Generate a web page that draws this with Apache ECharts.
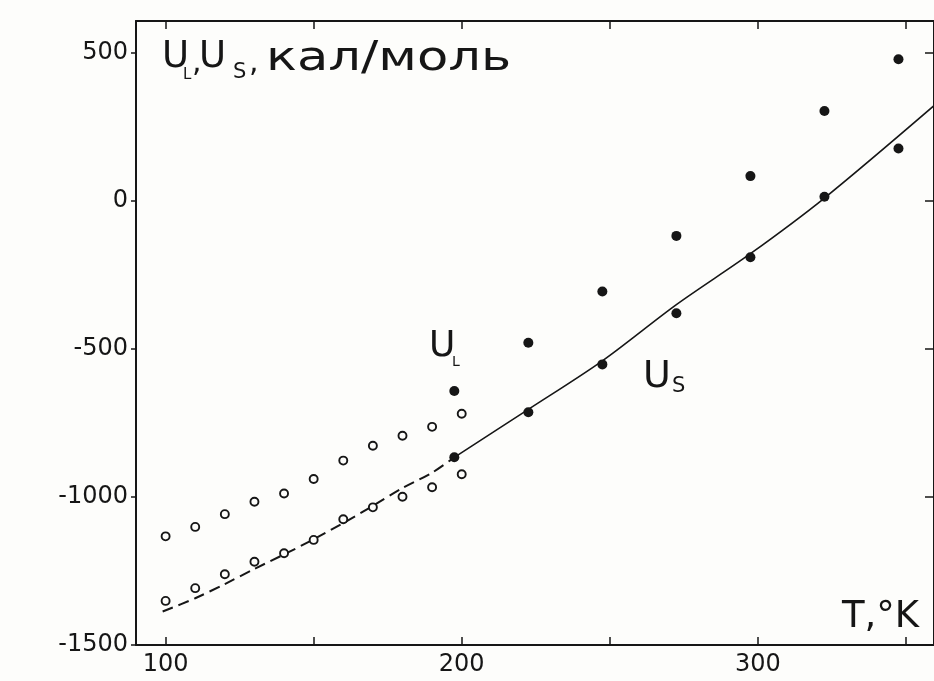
<!DOCTYPE html>
<html>
<head>
<meta charset="utf-8">
<script src="https://cdn.jsdelivr.net/npm/echarts@6/dist/echarts.min.js"></script>
<style>
html,body{margin:0;padding:0;background:#fdfdfb;}
#chart{width:934px;height:681px;}
</style>
</head>
<body>
<div id="chart"></div>
<script>
// ---- data ----
const tOpen = [100, 110, 120, 130, 140, 150, 160, 170, 180, 190, 200];
const uLOpen = [-1133, -1101, -1058, -1016, -988, -939, -877, -827, -793, -763, -719];
const uSOpen = [-1351, -1308, -1261, -1219, -1190, -1145, -1075, -1035, -999, -967, -923];

const tFilled = [197.5, 222.5, 247.5, 272.5, 297.5, 322.5, 347.5];
const uLFilled = [-642, -479, -306, -118, 84, 304, 479];
const uSFilled = [-866, -714, -552, -379, -190, 14, 177];

// fitted curve for U_S (dashed below 200 K, solid above)
const tDash = [99, 110, 120, 130, 140, 150, 160, 170, 180, 190, 197.5];
const uDash = [-1387, -1342, -1294, -1243, -1194, -1143, -1088, -1030, -970, -918, -866];
const tSolid = [197.5, 222.5, 247.5, 272.5, 297.5, 322.5, 359.5];
const uSolid = [-866, -704, -540, -350, -178, 10, 322];

// axes
const xTicks = [100, 150, 200, 250, 300, 350];
const xTickLabels = [100, 200, 300];
const yTicks = [-1500, -1000, -500, 0, 500];
const yTickLabels = [-1500, -1000, -500, 0, 500];

const zip = (a, b) => a.map((v, i) => [v, b[i]]);

const INK = '#161616';
const FONT = 'DejaVu Sans';
const BG = '#fdfdfb';

const chart = echarts.init(document.getElementById('chart'), null, {renderer: 'canvas'});

const axisCommon = {
  type: 'value',
  min: 90,
  max: 359.5,
  splitLine: {show: false},
  axisLine: {show: true, onZero: false, lineStyle: {color: INK, width: 2}}
};
const yCommon = {
  type: 'value',
  min: -1500,
  max: 608,
  splitLine: {show: false},
  axisLine: {show: true, onZero: false, lineStyle: {color: INK, width: 2}}
};

function txt(text, x, y, size, extra) {
  return Object.assign({
    type: 'text', x: x, y: y, silent: true,
    style: {text: text, fill: INK, font: size + 'px "' + FONT + '"', verticalAlign: 'middle', align: 'left'}
  }, extra || {});
}

const option = {
  backgroundColor: BG,
  animation: false,
  grid: {left: 136, top: 21, right: -3, bottom: 36, containLabel: false},
  xAxis: [
    Object.assign({}, axisCommon, {
      position: 'bottom',
      axisTick: {show: true, inside: true, length: 8, lineStyle: {color: INK, width: 1.5}, customValues: xTicks},
      axisLabel: {show: true, customValues: xTickLabels, color: INK, fontSize: 24, fontFamily: FONT, margin: 8}
    }),
    Object.assign({}, axisCommon, {
      position: 'top',
      axisTick: {show: true, inside: true, length: 8, lineStyle: {color: INK, width: 1.5}, customValues: xTicks},
      axisLabel: {show: false}
    })
  ],
  yAxis: [
    Object.assign({}, yCommon, {
      position: 'left',
      axisTick: {show: true, inside: false, length: 5, lineStyle: {color: INK, width: 1.5}, customValues: yTicks},
      axisLabel: {show: true, customValues: yTickLabels, color: INK, fontSize: 24, fontFamily: FONT, margin: 8,
        formatter: v => String(v).replace('\u2212', '-')}
    }),
    Object.assign({}, yCommon, {
      position: 'right',
      axisTick: {show: true, inside: true, length: 9, lineStyle: {color: INK, width: 1.5}, customValues: yTicks},
      axisLabel: {show: false}
    })
  ],
  series: [
    {
      type: 'line', name: 'fitDash', data: zip(tDash, uDash), symbol: 'none', smooth: 0.3,
      lineStyle: {color: INK, width: 2, type: [11, 6]}, z: 1
    },
    {
      type: 'line', name: 'fitSolid', data: zip(tSolid, uSolid), symbol: 'none', smooth: 0.3,
      lineStyle: {color: INK, width: 1.6}, z: 1
    },
    {
      type: 'scatter', name: 'U_L open', data: zip(tOpen, uLOpen), symbol: 'circle', symbolSize: 8,
      itemStyle: {color: BG, borderColor: INK, borderWidth: 1.9, opacity: 1}, z: 3
    },
    {
      type: 'scatter', name: 'U_S open', data: zip(tOpen, uSOpen), symbol: 'circle', symbolSize: 8,
      itemStyle: {color: BG, borderColor: INK, borderWidth: 1.9, opacity: 1}, z: 3
    },
    {
      type: 'scatter', name: 'U_L filled', data: zip(tFilled, uLFilled), symbol: 'circle', symbolSize: 10,
      itemStyle: {color: INK, opacity: 1}, z: 4
    },
    {
      type: 'scatter', name: 'U_S filled', data: zip(tFilled, uSFilled), symbol: 'circle', symbolSize: 10,
      itemStyle: {color: INK, opacity: 1}, z: 4
    }
  ],
  graphic: [
    // axis title (top-left)
    txt('U', 162, 57, 37),
    txt('L', 183, 75, 15),
    txt(',', 192, 63, 30),
    txt('U', 199, 57, 37),
    txt('S', 233, 73, 21),
    txt(',', 249, 63, 30),
    txt('кал/моль', 266, 60, 40, {scaleX: 1.28}),
    // curve labels
    txt('U', 429, 347, 36),
    txt('L', 452, 362, 14),
    txt('U', 643, 377, 38),
    txt('S', 672, 387, 21),
    // x axis title
    txt('T,°K', 842, 617, 37)
  ]
};
chart.setOption(option);
</script>
</body>
</html>
